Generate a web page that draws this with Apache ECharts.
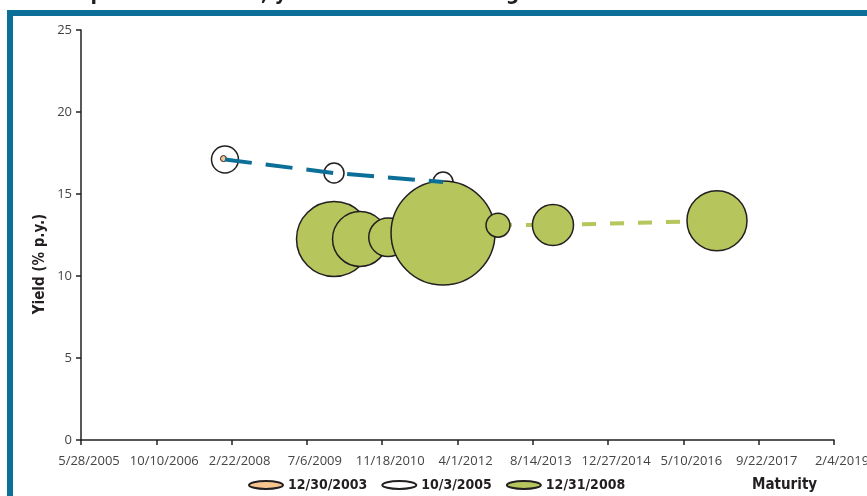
<!DOCTYPE html>
<html>
<head>
<meta charset="utf-8">
<script src="https://cdn.jsdelivr.net/npm/echarts@6/dist/echarts.min.js"></script>
<style>
  html, body { margin: 0; padding: 0; background: #fff; }
  #chart { width: 867px; height: 496px; }
</style>
</head>
<body>
<div id="chart"></div>
<script>
// Maturities are Excel date serials (days since 12/30/1899)
const axisStart = 38500;   // 5/28/2005
const axisEnd = 43500;     // 2/4/2019
const axisStep = 500;

// Issue date 12/30/2003
const maturities2003 = [39446];
const yields2003 = [17.16];
const amounts2003 = [3.3];

// Issue date 10/3/2005
const maturities2005 = [39456, 40180, 40904];
const yields2005 = [17.1, 16.28, 15.73];
const amounts2005 = [67, 37, 37];

// Issue date 12/31/2008
const maturities2008 = [40180, 40353, 40539, 40904, 41269, 41634, 42723];
const yields2008 = [12.26, 12.26, 12.36, 12.62, 13.1, 13.11, 13.37];
const amounts2008 = [520, 280, 138, 1000, 53, 156, 333];

const seriesNames = ['12/30/2003', '10/3/2005', '12/31/2008'];

const MAX_AMOUNT = 1000;
const MAX_DIAMETER = 104;

function bubbleData(xs, ys, amts) {
  return xs.map((x, i) => [x, ys[i], amts[i]]);
}
function lineData(xs, ys) {
  return xs.map((x, i) => [x, ys[i]]);
}
function bubbleSize(d) {
  return MAX_DIAMETER * Math.sqrt(d[2] / MAX_AMOUNT);
}
function serialToDate(serial) {
  const d = new Date(Date.UTC(1899, 11, 30) + Math.round(serial) * 86400000);
  return (d.getUTCMonth() + 1) + '/' + d.getUTCDate() + '/' + d.getUTCFullYear();
}

const ink = '#231f20';
const frameBlue = '#0b6f97';
const green = '#b6c55c';
const labelFont = '"Open Sans", "DejaVu Sans", sans-serif';
const boldFont = '"DejaVu Sans Condensed", "DejaVu Sans", sans-serif';
const ellipseIcon = 'path://M0,4 A17,4 0 1,0 34,4 A17,4 0 1,0 0,4 Z';

const chart = echarts.init(document.getElementById('chart'), null, { renderer: 'canvas' });

chart.setOption({
  animation: false,
  backgroundColor: '#fff',
  grid: { left: 81, right: 33, top: 30, bottom: 56, containLabel: false, outerBoundsMode: 'none' },
  xAxis: {
    type: 'value',
    min: axisStart,
    max: axisEnd,
    interval: axisStep,
    splitLine: { show: false },
    axisLine: { show: true, onZero: false, lineStyle: { color: ink, width: 1.5 } },
    axisTick: { show: true, length: 5, lineStyle: { color: ink, width: 1.5 } },
    axisLabel: {
      formatter: serialToDate,
      color: '#444',
      fontFamily: labelFont,
      fontSize: 13,
      margin: 15,
      padding: [0, 0, 0, 16],
      showMinLabel: true,
      showMaxLabel: true,
      hideOverlap: false
    }
  },
  yAxis: {
    type: 'value',
    min: 0,
    max: 25,
    interval: 5,
    splitLine: { show: false },
    axisLine: { show: true, lineStyle: { color: ink, width: 1.5 } },
    axisTick: { show: true, length: 5, lineStyle: { color: ink, width: 1.5 } },
    axisLabel: {
      color: '#444',
      fontFamily: labelFont,
      fontSize: 13,
      margin: 9
    }
  },
  legend: {
    data: seriesNames,
    left: 243,
    top: 473,
    icon: ellipseIcon,
    itemWidth: 34,
    itemHeight: 8,
    itemGap: 14,
    textStyle: { fontFamily: boldFont, fontWeight: 'bold', fontSize: 14, color: ink }
  },
  graphic: [
    {
      type: 'text', silent: true, x: 53, y: 5,
      style: {
        text: 'Graph 4: Maturities, yields and outstanding amounts of bonds',
        font: 'bold 21px "DejaVu Sans Condensed", sans-serif',
        fill: ink, align: 'left', verticalAlign: 'bottom'
      }
    },
    { type: 'rect', silent: true, shape: { x: 7, y: 10, width: 860, height: 6 }, style: { fill: frameBlue } },
    { type: 'rect', silent: true, shape: { x: 7, y: 10, width: 6, height: 486 }, style: { fill: frameBlue } },
    {
      type: 'text', silent: true, x: 40, y: 264, rotation: Math.PI / 2,
      style: {
        text: 'Yield (% p.y.)',
        font: 'bold 15px "DejaVu Sans Condensed", sans-serif',
        fill: ink, align: 'center', verticalAlign: 'middle'
      }
    },
    {
      type: 'text', silent: true, x: 752, y: 485,
      style: {
        text: 'Maturity',
        font: 'bold 15px "DejaVu Sans Condensed", sans-serif',
        fill: ink, align: 'left', verticalAlign: 'middle'
      }
    }
  ],
  series: [
    {
      name: 'trend2008',
      type: 'line',
      data: lineData(maturities2008.slice(4), yields2008.slice(4)),
      symbol: 'none',
      z: 1,
      lineStyle: { color: green, width: 4, type: [14, 14] },
      silent: true
    },
    {
      name: seriesNames[1],
      type: 'scatter',
      data: bubbleData(maturities2005, yields2005, amounts2005),
      symbolSize: bubbleSize,
      z: 2,
      itemStyle: { color: '#ffffff', borderColor: ink, borderWidth: 1.5, opacity: 1 }
    },
    {
      name: seriesNames[2],
      type: 'scatter',
      data: bubbleData(maturities2008, yields2008, amounts2008),
      symbolSize: bubbleSize,
      z: 3,
      itemStyle: { color: green, borderColor: ink, borderWidth: 1.5, opacity: 1 }
    },
    {
      name: seriesNames[0],
      type: 'scatter',
      data: bubbleData(maturities2003, yields2003, amounts2003),
      symbolSize: bubbleSize,
      z: 4,
      itemStyle: { color: '#f6c590', borderColor: ink, borderWidth: 1, opacity: 1 }
    },
    {
      name: 'trend2005',
      type: 'line',
      data: lineData(maturities2005, yields2005),
      symbol: 'none',
      z: 5,
      lineStyle: { color: '#0b6f97', width: 4, type: [27, 14] },
      silent: true
    }
  ]
});
</script>
</body>
</html>
